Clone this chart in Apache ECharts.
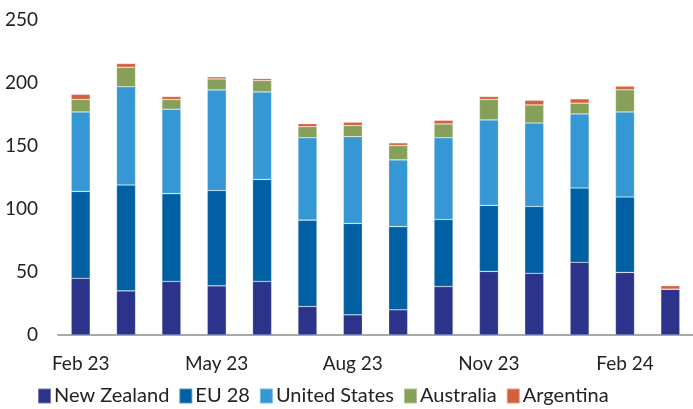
<!DOCTYPE html>
<html>
<head>
<meta charset="utf-8">
<script src="https://cdn.jsdelivr.net/npm/echarts@6/dist/echarts.min.js"></script>
<style>
    html, body { margin: 0; padding: 0; background: #fff; }
    #chart { width: 693px; height: 409px; }
</style>
</head>
<body>
<div id="chart"></div>
<script>
// 月份
var months = ['Feb 23', 'Mar 23', 'Apr 23', 'May 23', 'Jun 23', 'Jul 23', 'Aug 23', 'Sep 23', 'Oct 23', 'Nov 23', 'Dec 23', 'Jan 24', 'Feb 24', 'Mar 24']

// 各国数据
var newZealand   = [45, 35, 42.5, 39, 42.5, 22.6, 16, 20, 38.5, 50.5, 49, 57.7, 49.7, 36.4]
var eu28         = [69, 84, 69.7, 75.7, 81, 68.6, 72.6, 66, 53.2, 52.4, 53, 59, 59.8, 0]
var unitedStates = [63, 78, 67, 79.8, 69.4, 65.3, 68.8, 53, 64.8, 67.8, 66.2, 58.7, 67.5, 0]
var australia    = [10, 15.5, 7.7, 8.7, 9, 8.8, 8.8, 11.4, 11, 16.2, 14.4, 8.6, 17.6, 0]
var argentina    = [4, 3, 2.4, 1.7, 1.6, 2.4, 2.7, 2.1, 2.9, 2.4, 3.7, 3.4, 2.9, 2.7]

var seriesNames = ['New Zealand', 'EU 28', 'United States', 'Australia', 'Argentina']
var seriesData = [newZealand, eu28, unitedStates, australia, argentina]
var colors = ['#2b338b', '#0060a3', '#3598d5', '#86a05a', '#d5603d']

var fontFamily = 'Lato, "Liberation Sans", sans-serif'

var myChart = echarts.init(document.getElementById('chart'))

var series = seriesNames.map(function (name, i) {
    return {
        name: name,
        type: 'bar',
        stack: 'total',
        barWidth: 19,
        itemStyle: {
            color: colors[i],
            borderColor: 'rgba(255,255,255,0.35)',
            borderWidth: 0.6
        },
        data: seriesData[i]
    }
})

var option = {
    animation: false,
    color: colors,
    grid: {
        left: 58,
        right: 0,
        top: 20,
        bottom: 74
    },
    legend: {
        left: 32,
        top: 381,
        itemWidth: 13,
        itemHeight: 15,
        itemGap: 9,
        icon: 'rect',
        textStyle: {
            color: '#222',
            fontSize: 20,
            fontFamily: fontFamily,
            padding: [0, 0, 0, -2]
        },
        data: seriesNames
    },
    xAxis: {
        type: 'category',
        data: months,
        axisTick: { show: false },
        axisLine: {
            lineStyle: { color: '#8c8c8c', width: 1.5 }
        },
        axisLabel: {
            interval: 2,
            margin: 19,
            color: '#222',
            fontSize: 19,
            fontFamily: fontFamily
        }
    },
    yAxis: {
        type: 'value',
        min: 0,
        max: 250,
        interval: 50,
        axisLine: { show: false },
        axisTick: { show: false },
        splitLine: { show: false },
        axisLabel: {
            margin: 20,
            color: '#222',
            fontSize: 19,
            fontFamily: fontFamily
        }
    },
    series: series
}

myChart.setOption(option)
</script>
</body>
</html>
